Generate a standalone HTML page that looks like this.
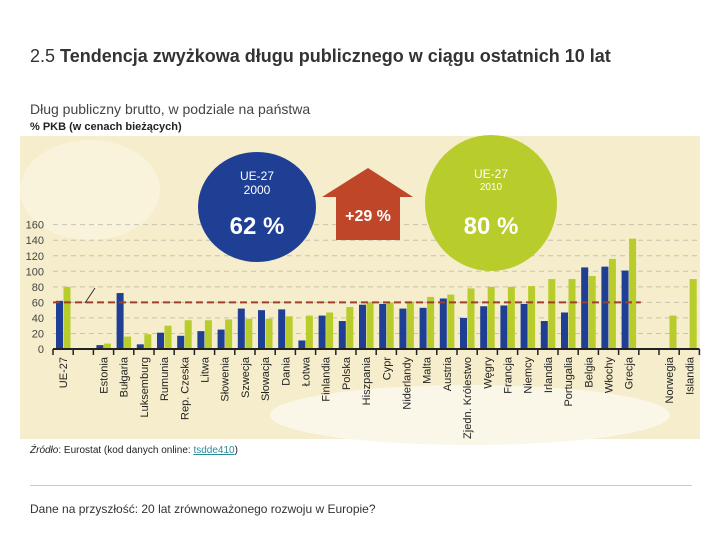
<!DOCTYPE html>
<html><head><meta charset="utf-8"><style>
body{margin:0;width:720px;height:540px;background:#fff;font-family:"Liberation Sans",sans-serif;overflow:hidden;position:relative}
.t{position:absolute;white-space:nowrap}
</style></head><body>
<div class="t" style="left:30px;top:46px;font-size:18px;color:#333">2.5 <b>Tendencja zwyżkowa długu publicznego w ciągu ostatnich 10 lat</b></div>
<div class="t" style="left:30px;top:101px;font-size:14px;color:#444">Dług publiczny brutto, w podziale na państwa</div>
<div class="t" style="left:30px;top:121px;font-size:11px;color:#222;font-weight:bold">% PKB (w cenach bieżących)</div>
<svg id="chart" width="720" height="540" style="position:absolute;left:0;top:0">
<rect x="20" y="136" width="680" height="303" fill="#f5edcb"/>
<ellipse cx="470" cy="415" rx="200" ry="30" fill="#fbf7e8"/>
<ellipse cx="90" cy="190" rx="70" ry="50" fill="#f9f3dc"/>
<g id="grid"></g><g id="bars"></g><g id="axis"></g>
<ellipse cx="257" cy="207" rx="59" ry="55" fill="#1f3f94"/>
<text x="257" y="180" fill="#fff" font-size="12" text-anchor="middle">UE-27</text>
<text x="257" y="194" fill="#fff" font-size="12" text-anchor="middle">2000</text>
<text x="257" y="234" fill="#fff" font-size="24" font-weight="bold" text-anchor="middle">62 %</text>
<polygon points="322,197 368,168 413,197 400,197 400,240 336,240 336,197" fill="#c0462a"/>
<text x="368" y="221" fill="#fff" font-size="16" font-weight="bold" text-anchor="middle">+29 %</text>
<ellipse cx="491" cy="203" rx="66" ry="68" fill="#b8cc2c"/>
<text x="491" y="178" fill="#fff" font-size="12" text-anchor="middle">UE-27</text>
<text x="491" y="190" fill="#fff" font-size="10" text-anchor="middle">2010</text>
<text x="491" y="234" fill="#fff" font-size="24" font-weight="bold" text-anchor="middle">80 %</text>
<line x1="85" y1="303" x2="95" y2="288" stroke="#333"/>
</svg>
<div class="t" style="left:30px;top:445px;font-size:10px;color:#222"><i>Źródło</i>: Eurostat (kod danych online: <span style="color:#2a8a9a;text-decoration:underline">tsdde410</span>)</div>
<div style="position:absolute;left:30px;top:485px;width:662px;height:1px;background:#ccc"></div>
<div class="t" style="left:30px;top:502px;font-size:12px;color:#333">Dane na przyszłość: 20 lat zrównoważonego rozwoju w Europie?</div>
<script>
const categories=["UE-27","","Estonia","Bułgaria","Luksemburg","Rumunia","Rep. Czeska","Litwa","Słowenia","Szwecja","Słowacja","Dania","Łotwa","Finlandia","Polska","Hiszpania","Cypr","Niderlandy","Malta","Austria","Zjedn. Królestwo","Węgry","Francja","Niemcy","Irlandia","Portugalia","Belgia","Włochy","Grecja","","Norwegia","Islandia"];
const values2000=[62,null,5,72,6,21,17,23,25,52,50,51,11,43,36,57,58,52,53,65,40,55,56,58,36,47,105,106,101,null,null,null];
const values2010=[80,null,7,16,19,30,37,37,38,39,39,42,43,47,54,60,60,61,67,70,78,80,80,81,90,90,94,116,142,null,43,90];
const ticks=[0,20,40,60,80,100,120,140,160];
const euAverage=[60];
const NS="http://www.w3.org/2000/svg";
const x0=53,slot=20.2,y0=349,k=0.777;
const Y=v=>y0-v*k, X=i=>x0+i*slot;
function mk(p,t,a){const e=document.createElementNS(NS,t);for(const n in a)e.setAttribute(n,a[n]);p.appendChild(e);return e;}
const g=document.getElementById('grid'),b=document.getElementById('bars'),ax=document.getElementById('axis');
ticks.forEach(v=>{
 if(v>0){const l=mk(g,'line',{x1:x0,x2:700,y1:Y(v),y2:Y(v),stroke:'#c8c2b0','stroke-dasharray':'5,4','stroke-width':1});
 
 }
 const t=mk(ax,'text',{x:44,y:Y(v)+4,'font-size':11,fill:'#444','text-anchor':'end'});t.textContent=v;
 
 
});
categories.forEach((c,i)=>{
 const a=values2000[i],z=values2010[i];
 if(a!=null){const r=mk(b,'rect',{x:X(i)+3,y:Y(a),width:7,height:a*k,fill:'#1f3f94'});
 
 }
 if(z!=null){const r=mk(b,'rect',{x:X(i)+10.5,y:Y(z),width:7,height:z*k,fill:'#b8cc2c'});
 
 }
 const tk=mk(ax,'line',{x1:X(i),x2:X(i),y1:y0,y2:y0+6,stroke:'#222','stroke-width':1.5});
 
 
 if(c){const cx=X(i)+slot/2+4;const t=mk(ax,'text',{x:0,y:0,'font-size':11,fill:'#222','text-anchor':'end',transform:`translate(${cx},357) rotate(-90)`});t.textContent=c;
 
 }
});
const tk=mk(ax,'line',{x1:X(32),x2:X(32),y1:y0,y2:y0+6,stroke:'#222','stroke-width':1.5});
const base=mk(ax,'line',{x1:x0,x2:X(32),y1:y0,y2:y0,stroke:'#222','stroke-width':2});


const avg=mk(b,'line',{x1:x0,x2:X(29)+2,y1:Y(euAverage[0]),y2:Y(euAverage[0]),stroke:'#a0402a','stroke-dasharray':'7,4','stroke-width':2});


</script>
</body></html>
